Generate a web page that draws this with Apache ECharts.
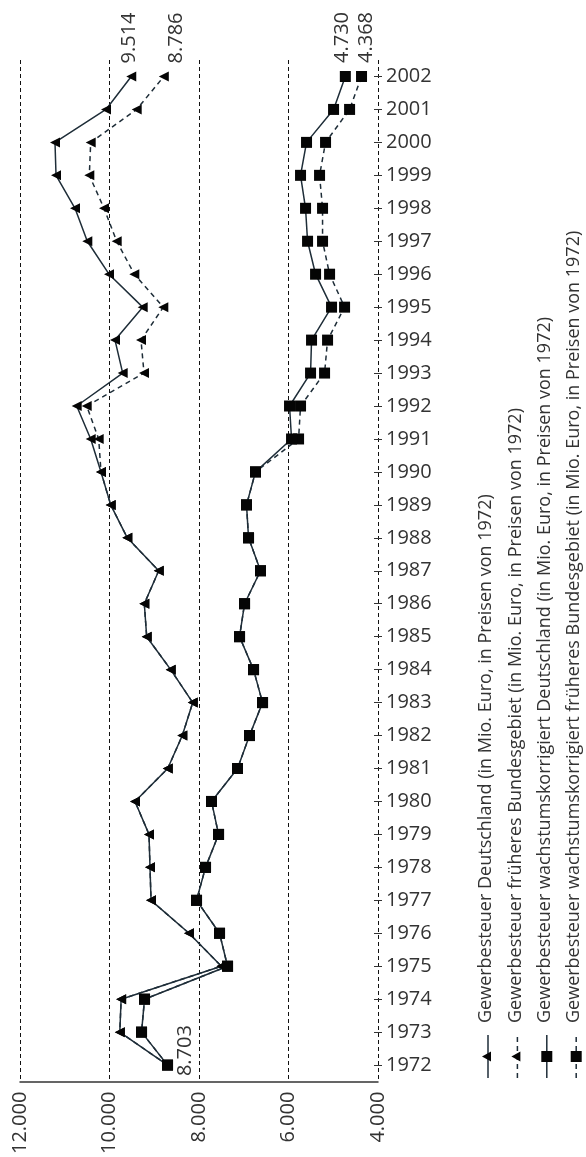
<!DOCTYPE html>
<html>
<head>
<meta charset="utf-8">
<script src="https://cdn.jsdelivr.net/npm/echarts@6/dist/echarts.min.js"></script>
<style>
html,body{margin:0;padding:0;background:#fff;}
#chart{width:586px;height:1157px;}
</style>
</head>
<body>
<div id="chart"></div>
<script>
const years = ['1972','1973','1974','1975','1976','1977','1978','1979','1980','1981','1982','1983','1984','1985','1986','1987','1988','1989','1990','1991','1992','1993','1994','1995','1996','1997','1998','1999','2000','2001','2002'];
const seriesNames = [
  'Gewerbesteuer Deutschland (in Mio. Euro, in Preisen von 1972)',
  'Gewerbesteuer früheres Bundesgebiet (in Mio. Euro, in Preisen von 1972)',
  'Gewerbesteuer wachstumskorrigiert Deutschland (in Mio. Euro, in Preisen von 1972)',
  'Gewerbesteuer wachstumskorrigiert früheres Bundesgebiet (in Mio. Euro, in Preisen von 1972)'
];
const gewDeutschland = [8703,9770,9740,7500,8223,9072,9095,9117,9430,8699,8373,8140,8632,9169,9222,8900,9602,9973,10190,10420,10733,9705,9877,9258,10011,10496,10771,11195,11218,10078,9514];
const gewWest        = [8703,9770,9740,7500,8223,9072,9095,9117,9430,8699,8373,8140,8632,9169,9222,8900,9602,9973,10190,10241,10510,9229,9296,8797,9445,9839,10123,10451,10420,9392,8786];
const wkDeutschland  = [8703,9284,9217,7362,7541,8055,7854,7563,7720,7139,6871,6580,6781,7094,6982,6625,6893,6938,6737,5932,5977,5507,5485,5038,5395,5574,5619,5731,5597,4993,4730];
const wkWest         = [8703,9284,9217,7362,7541,8055,7854,7563,7720,7139,6871,6580,6781,7094,6982,6625,6893,6938,6737,5775,5731,5194,5127,4747,5082,5239,5239,5306,5172,4635,4368];
const valueTicks = [4000,6000,8000,10000,12000];

const FONT = 'Open Sans';
const LINE = '#1e2d38';
const MARK = '#050505';
const TXT = '#333333';
function fmt(v){ return String(v).replace(/\B(?=(\d{3})+(?!\d))/g,'.'); }

function buildData(vals, endOffset, labelFirst){
  return vals.map((v,i)=>{
    const last = i === vals.length-1;
    if (last) {
      return {value:v, label:{show:true, position:'top', distance:8, rotate:90, align:'left', verticalAlign:'middle', offset:endOffset,
        formatter:(p)=>fmt(p.value), fontFamily:FONT, fontSize:20, color:TXT}};
    }
    if (i===0 && labelFirst) {
      return {value:v, label:{show:true, position:'right', distance:13, rotate:90, align:'left', verticalAlign:'middle', offset:[-11,0],
        formatter:(p)=>fmt(p.value), fontFamily:FONT, fontSize:20, color:TXT}};
    }
    return v;
  });
}

function mkSeries(name, vals, symbol, dashed, endOffset, labelFirst){
  return {
    name, type:'line', data: buildData(vals, endOffset, labelFirst),
    symbol: symbol==='tri' ? 'triangle' : 'rect',
    symbolSize: symbol==='tri' ? 10 : 11,
    symbolRotate: symbol==='tri' ? 90 : 0,
    lineStyle:{color:LINE, width:1.5, type: dashed ? [5,4] : 'solid'},
    itemStyle:{color:MARK, borderWidth:0},
    label:{show:false},
    emphasis:{disabled:true},
    animation:false,
    z: dashed ? 3 : 4
  };
}

const chart = echarts.init(document.getElementById('chart'), null, {renderer:'canvas'});

const legendRows = seriesNames.map((nm,i)=>{
  const y = i*29.4;
  const dashed = (i%2===1);
  const tri = i<2;
  const children = [
    {type:'line', shape:{x1:0,y1:y,x2:43,y2:y}, style:{stroke:LINE, lineWidth:1.5, lineDash: dashed?[5,4]:null}},
  ];
  if (tri) {
    children.push({type:'polygon', shape:{points:[[21.5,y-6],[16.5,y+3],[26.5,y+3]]}, style:{fill:MARK}});
  } else {
    children.push({type:'rect', shape:{x:16,y:y-5.5,width:11,height:11}, style:{fill:MARK}});
  }
  children.push({type:'text', x:55, y:y-2, style:{text:nm, font:'18px "Open Sans"', fill:TXT, textAlign:'left', textVerticalAlign:'middle'}});
  return {type:'group', children};
});

chart.setOption({
  backgroundColor:'#ffffff',
  animation:false,
  grid:{left:20, right:208, top:60, bottom:73.5, containLabel:false},
  xAxis:{
    type:'value', min:4000, max:12000, interval:2000, inverse:true, position:'bottom',
    axisLine:{show:true, onZero:false, lineStyle:{color:'#333', width:1.5}},
    axisTick:{show:false},
    axisLabel:{rotate:90, margin:10, fontFamily:FONT, fontSize:20, color:TXT, formatter:(v)=>fmt(v)},
    splitLine:{show:true, lineStyle:{color:'#111', width:1, type:[4,3]}}
  },
  yAxis:[{
    type:'category', data:years, position:'right', boundaryGap:true,
    axisLine:{show:false},
    axisTick:{show:true, alignWithLabel:true, length:4, lineStyle:{color:'#333', width:1}},
    axisLabel:{margin:8, fontFamily:FONT, fontSize:20, color:TXT},
    splitLine:{show:false}
  },{
    type:'category', data:years, position:'right', boundaryGap:true,
    axisLine:{show:false},
    axisTick:{show:true, inside:true, alignWithLabel:true, length:4, lineStyle:{color:'#333', width:1}},
    axisLabel:{show:false},
    splitLine:{show:false}
  }],
  series:[
    mkSeries(seriesNames[1], gewWest, 'tri', true, [0,12], false),
    mkSeries(seriesNames[3], wkWest, 'rect', true, [0,5], false),
    mkSeries(seriesNames[0], gewDeutschland, 'tri', false, [0,-2], true),
    mkSeries(seriesNames[2], wkDeutschland, 'rect', false, [0,-3], false)
  ],
  graphic:[{type:'group', x:488, y:1078, rotation:Math.PI/2, children:legendRows}]
});
</script>
</body>
</html>
